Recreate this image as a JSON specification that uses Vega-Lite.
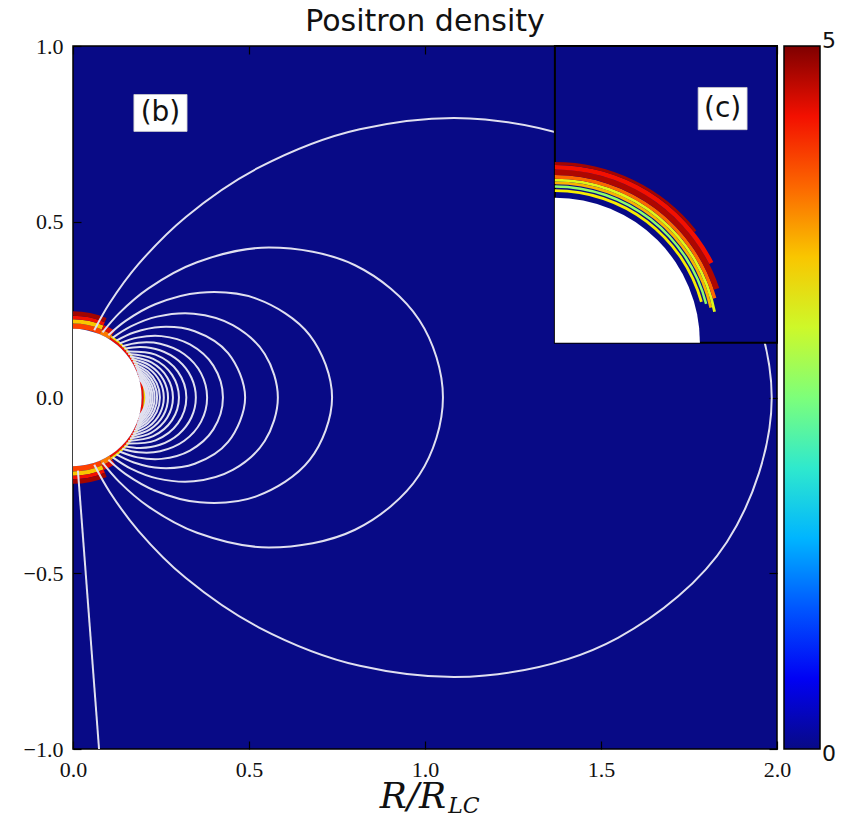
{
"$schema":"https://vega.github.io/schema/vega-lite/v6.json",
"width":704,"height":703,
"padding":{"left":23,"top":7,"right":0,"bottom":0},
"background":"white",
"title":{"text":"Positron density","font":"DejaVu Sans","fontSize":30,"fontWeight":"normal","color":"#111","offset":-2},
"config":{
 "view":{"fill":"#080a86","stroke":"#000","strokeWidth":1.5},
 "axis":{"labelFont":"Liberation Serif","labelFontSize":22,"labelColor":"#111","tickColor":"#000","tickSize":-8,"tickWidth":1.2,"domain":false,"grid":false,"labelPadding":18,"labelFlush":false,"zindex":1},
 "legend":{"labelFont":"DejaVu Sans","labelFontSize":22,"labelColor":"#111","gradientLength":703,"gradientThickness":36,"offset":6,"padding":0,"labelOffset":10,"gradientStrokeColor":"#000","gradientStrokeWidth":1.5}
},
"datasets":{
"ring":[
{"p":"m","cx":0,"cy":0,"t0":0,"t1":0.40,"r0":0.195,"r1":0.21,"d":4.2},
{"p":"m","cx":0,"cy":0,"t0":0,"t1":0.40,"r0":0.21,"r1":0.222,"d":3.5},
{"p":"m","cx":0,"cy":0,"t0":0,"t1":0.40,"r0":0.222,"r1":0.232,"d":4.5},
{"p":"m","cx":0,"cy":0,"t0":0,"t1":0.40,"r0":0.232,"r1":0.245,"d":4.85},
{"p":"m","cx":0,"cy":0,"t0":0.40,"t1":0.56,"r0":0.195,"r1":0.21,"d":3.9},
{"p":"m","cx":0,"cy":0,"t0":0.40,"t1":0.56,"r0":0.21,"r1":0.224,"d":4.6},
{"p":"m","cx":0,"cy":0,"t0":0.56,"t1":2.58,"r0":0.195,"r1":0.201,"d":4.5},
{"p":"m","cx":0,"cy":0,"t0":0.56,"t1":2.58,"r0":0.201,"r1":0.207,"d":3.4},
{"p":"m","cx":0,"cy":0,"t0":2.58,"t1":2.74,"r0":0.195,"r1":0.21,"d":3.9},
{"p":"m","cx":0,"cy":0,"t0":2.58,"t1":2.74,"r0":0.21,"r1":0.224,"d":4.6},
{"p":"m","cx":0,"cy":0,"t0":2.74,"t1":3.1416,"r0":0.195,"r1":0.21,"d":4.2},
{"p":"m","cx":0,"cy":0,"t0":2.74,"t1":3.1416,"r0":0.21,"r1":0.222,"d":3.5},
{"p":"m","cx":0,"cy":0,"t0":2.74,"t1":3.1416,"r0":0.222,"r1":0.232,"d":4.5},
{"p":"m","cx":0,"cy":0,"t0":2.74,"t1":3.1416,"r0":0.232,"r1":0.245,"d":4.85},
{"p":"i","cx":1.369,"cy":0.156,"t0":0,"t1":1.30,"r0":0.428,"r1":0.436,"d":3.3},
{"p":"i","cx":1.369,"cy":0.156,"t0":0,"t1":1.32,"r0":0.440,"r1":0.447,"d":2.6},
{"p":"i","cx":1.369,"cy":0.156,"t0":0,"t1":1.35,"r0":0.450,"r1":0.458,"d":3.6},
{"p":"i","cx":1.369,"cy":0.156,"t0":0,"t1":1.38,"r0":0.458,"r1":0.466,"d":3.1},
{"p":"i","cx":1.369,"cy":0.156,"t0":0,"t1":1.30,"r0":0.466,"r1":0.476,"d":4.0},
{"p":"i","cx":1.369,"cy":0.156,"t0":0,"t1":1.25,"r0":0.476,"r1":0.492,"d":4.8},
{"p":"i","cx":1.369,"cy":0.156,"t0":0,"t1":1.10,"r0":0.492,"r1":0.505,"d":4.5},
{"p":"i","cx":1.369,"cy":0.156,"t0":0,"t1":0.90,"r0":0.505,"r1":0.513,"d":4.85}
],
"stars":[
{"cx":0,"cy":0,"t0":0,"t1":3.1416,"r0":0,"r1":0.195},
{"cx":1.369,"cy":0.156,"t0":0,"t1":1.5708,"r0":0,"r1":0.412}
],
"inset":[{"x0":1.369,"x1":2.0,"y0":0.156,"y1":1.0}],
"boxes":[
{"label":"(b)","x0":0.173,"x1":0.324,"y0":0.757,"y1":0.862,"xc":0.2485,"yc":0.809},
{"label":"(c)","x0":1.776,"x1":1.915,"y0":0.762,"y1":0.882,"xc":1.8455,"yc":0.822}
],
"xt1":[{"x":1.06,"y":-1.169,"t":"R/R"}],
"xt2":[{"x":1.066,"y":-1.181,"t":"LC"}],
"fl":[
{"id":1,"o":0,"x":0.0604,"y":0.1913},{"id":1,"o":1,"x":0.1043,"y":0.2687},{"id":1,"o":2,"x":0.1858,"y":0.3792},{"id":1,"o":3,"x":0.3207,"y":0.5138},{"id":1,"o":4,"x":0.5272,"y":0.6537},{"id":1,"o":5,"x":0.8146,"y":0.7632},{"id":1,"o":6,"x":1.171,"y":0.7911},{"id":1,"o":7,"x":1.5482,"y":0.6836},{"id":1,"o":8,"x":1.8577,"y":0.4109},{"id":1,"o":9,"x":1.985,"y":0},{"id":1,"o":10,"x":1.8577,"y":-0.4109},{"id":1,"o":11,"x":1.5482,"y":-0.6836},{"id":1,"o":12,"x":1.171,"y":-0.7911},{"id":1,"o":13,"x":0.8146,"y":-0.7632},{"id":1,"o":14,"x":0.5272,"y":-0.6537},{"id":1,"o":15,"x":0.3207,"y":-0.5138},{"id":1,"o":16,"x":0.1858,"y":-0.3792},{"id":1,"o":17,"x":0.1043,"y":-0.2687},{"id":1,"o":18,"x":0.0604,"y":-0.1913},
{"id":2,"o":0,"x":0.0839,"y":0.1854},{"id":2,"o":1,"x":0.1314,"y":0.2401},{"id":2,"o":2,"x":0.2135,"y":0.3099},{"id":2,"o":3,"x":0.3524,"y":0.3849},{"id":2,"o":4,"x":0.5565,"y":0.4266},{"id":2,"o":5,"x":0.8012,"y":0.3763},{"id":2,"o":6,"x":0.9836,"y":0.2206},{"id":2,"o":7,"x":1.051,"y":0},{"id":2,"o":8,"x":0.9836,"y":-0.2206},{"id":2,"o":9,"x":0.8012,"y":-0.3763},{"id":2,"o":10,"x":0.5565,"y":-0.4266},{"id":2,"o":11,"x":0.3524,"y":-0.3849},{"id":2,"o":12,"x":0.2135,"y":-0.3099},{"id":2,"o":13,"x":0.1314,"y":-0.2401},{"id":2,"o":14,"x":0.0839,"y":-0.1854},
{"id":3,"o":0,"x":0.1005,"y":0.1774},{"id":3,"o":1,"x":0.1495,"y":0.2181},{"id":3,"o":2,"x":0.2335,"y":0.2654},{"id":3,"o":3,"x":0.3601,"y":0.2983},{"id":3,"o":4,"x":0.5206,"y":0.2812},{"id":3,"o":5,"x":0.6723,"y":0.1777},{"id":3,"o":6,"x":0.736,"y":0},{"id":3,"o":7,"x":0.6723,"y":-0.1777},{"id":3,"o":8,"x":0.5206,"y":-0.2812},{"id":3,"o":9,"x":0.3601,"y":-0.2983},{"id":3,"o":10,"x":0.2335,"y":-0.2654},{"id":3,"o":11,"x":0.1495,"y":-0.2181},{"id":3,"o":12,"x":0.1005,"y":-0.1774},
{"id":4,"o":0,"x":0.1131,"y":0.1703},{"id":4,"o":1,"x":0.1644,"y":0.2023},{"id":4,"o":2,"x":0.2389,"y":0.2301},{"id":4,"o":3,"x":0.3433,"y":0.2385},{"id":4,"o":4,"x":0.454,"y":0.2061},{"id":4,"o":5,"x":0.5447,"y":0.1239},{"id":4,"o":6,"x":0.582,"y":0},{"id":4,"o":7,"x":0.5447,"y":-0.1239},{"id":4,"o":8,"x":0.454,"y":-0.2061},{"id":4,"o":9,"x":0.3433,"y":-0.2385},{"id":4,"o":10,"x":0.2389,"y":-0.2301},{"id":4,"o":11,"x":0.1644,"y":-0.2023},{"id":4,"o":12,"x":0.1131,"y":-0.1703},
{"id":5,"o":0,"x":0.1234,"y":0.1619},{"id":5,"o":1,"x":0.1729,"y":0.185},{"id":5,"o":2,"x":0.2491,"y":0.2008},{"id":5,"o":3,"x":0.3459,"y":0.1886},{"id":5,"o":4,"x":0.4407,"y":0.1263},{"id":5,"o":5,"x":0.489,"y":0},{"id":5,"o":6,"x":0.4407,"y":-0.1263},{"id":5,"o":7,"x":0.3459,"y":-0.1886},{"id":5,"o":8,"x":0.2491,"y":-0.2008},{"id":5,"o":9,"x":0.1729,"y":-0.185},{"id":5,"o":10,"x":0.1234,"y":-0.1619},
{"id":6,"o":0,"x":0.1321,"y":0.1537},{"id":6,"o":1,"x":0.1831,"y":0.1703},{"id":6,"o":2,"x":0.2513,"y":0.1746},{"id":6,"o":3,"x":0.3323,"y":0.1509},{"id":6,"o":4,"x":0.3987,"y":0.0907},{"id":6,"o":5,"x":0.426,"y":0},{"id":6,"o":6,"x":0.3987,"y":-0.0907},{"id":6,"o":7,"x":0.3323,"y":-0.1509},{"id":6,"o":8,"x":0.2513,"y":-0.1746},{"id":6,"o":9,"x":0.1831,"y":-0.1703},{"id":6,"o":10,"x":0.1321,"y":-0.1537},
{"id":7,"o":0,"x":0.1397,"y":0.1458},{"id":7,"o":1,"x":0.1864,"y":0.1559},{"id":7,"o":2,"x":0.2475,"y":0.1529},{"id":7,"o":3,"x":0.3162,"y":0.1231},{"id":7,"o":4,"x":0.3639,"y":0.0686},{"id":7,"o":5,"x":0.381,"y":0},{"id":7,"o":6,"x":0.3639,"y":-0.0686},{"id":7,"o":7,"x":0.3162,"y":-0.1231},{"id":7,"o":8,"x":0.2475,"y":-0.1529},{"id":7,"o":9,"x":0.1864,"y":-0.1559},{"id":7,"o":10,"x":0.1397,"y":-0.1458},
{"id":8,"o":0,"x":0.146,"y":0.1386},{"id":8,"o":1,"x":0.1918,"y":0.1437},{"id":8,"o":2,"x":0.2469,"y":0.1346},{"id":8,"o":3,"x":0.3002,"y":0.1044},{"id":8,"o":4,"x":0.3363,"y":0.057},{"id":8,"o":5,"x":0.349,"y":0},{"id":8,"o":6,"x":0.3363,"y":-0.057},{"id":8,"o":7,"x":0.3002,"y":-0.1044},{"id":8,"o":8,"x":0.2469,"y":-0.1346},{"id":8,"o":9,"x":0.1918,"y":-0.1437},{"id":8,"o":10,"x":0.146,"y":-0.1386},
{"id":9,"o":0,"x":0.1518,"y":0.131},{"id":9,"o":1,"x":0.2344,"y":0.1218},{"id":9,"o":2,"x":0.2979,"y":0.0736},{"id":9,"o":3,"x":0.322,"y":0},{"id":9,"o":4,"x":0.2979,"y":-0.0736},{"id":9,"o":5,"x":0.2344,"y":-0.1218},{"id":9,"o":6,"x":0.1518,"y":-0.131},
{"id":10,"o":0,"x":0.157,"y":0.1238},{"id":10,"o":1,"x":0.2279,"y":0.1101},{"id":10,"o":2,"x":0.2814,"y":0.0645},{"id":10,"o":3,"x":0.301,"y":0},{"id":10,"o":4,"x":0.2814,"y":-0.0645},{"id":10,"o":5,"x":0.2279,"y":-0.1101},{"id":10,"o":6,"x":0.157,"y":-0.1238},
{"id":11,"o":0,"x":0.1618,"y":0.1168},{"id":11,"o":1,"x":0.223,"y":0.0998},{"id":11,"o":2,"x":0.2678,"y":0.0572},{"id":11,"o":3,"x":0.284,"y":0},{"id":11,"o":4,"x":0.2678,"y":-0.0572},{"id":11,"o":5,"x":0.223,"y":-0.0998},{"id":11,"o":6,"x":0.1618,"y":-0.1168},
{"id":12,"o":0,"x":0.1658,"y":0.11},{"id":12,"o":1,"x":0.2188,"y":0.0908},{"id":12,"o":2,"x":0.2564,"y":0.0514},{"id":12,"o":3,"x":0.27,"y":0},{"id":12,"o":4,"x":0.2564,"y":-0.0514},{"id":12,"o":5,"x":0.2188,"y":-0.0908},{"id":12,"o":6,"x":0.1658,"y":-0.11},
{"id":13,"o":0,"x":0.1696,"y":0.1031},{"id":13,"o":1,"x":0.2153,"y":0.0825},{"id":13,"o":2,"x":0.2466,"y":0.0461},{"id":13,"o":3,"x":0.258,"y":0},{"id":13,"o":4,"x":0.2466,"y":-0.0461},{"id":13,"o":5,"x":0.2153,"y":-0.0825},{"id":13,"o":6,"x":0.1696,"y":-0.1031},
{"id":14,"o":0,"x":0.1733,"y":0.0957},{"id":14,"o":1,"x":0.2118,"y":0.0745},{"id":14,"o":2,"x":0.2378,"y":0.0408},{"id":14,"o":3,"x":0.247,"y":0},{"id":14,"o":4,"x":0.2378,"y":-0.0408},{"id":14,"o":5,"x":0.2118,"y":-0.0745},{"id":14,"o":6,"x":0.1733,"y":-0.0957},
{"id":15,"o":0,"x":0.1762,"y":0.0895},{"id":15,"o":1,"x":0.2093,"y":0.0681},{"id":15,"o":2,"x":0.2312,"y":0.037},{"id":15,"o":3,"x":0.239,"y":0},{"id":15,"o":4,"x":0.2312,"y":-0.037},{"id":15,"o":5,"x":0.2093,"y":-0.0681},{"id":15,"o":6,"x":0.1762,"y":-0.0895},
{"id":16,"o":0,"x":0.1789,"y":0.0832},{"id":16,"o":1,"x":0.207,"y":0.0622},{"id":16,"o":2,"x":0.2256,"y":0.0331},{"id":16,"o":3,"x":0.232,"y":0},{"id":16,"o":4,"x":0.2256,"y":-0.0331},{"id":16,"o":5,"x":0.207,"y":-0.0622},{"id":16,"o":6,"x":0.1789,"y":-0.0832},
{"id":17,"o":0,"x":0.1813,"y":0.0772},{"id":17,"o":1,"x":0.2051,"y":0.0568},{"id":17,"o":2,"x":0.2207,"y":0.0298},{"id":17,"o":3,"x":0.226,"y":0},{"id":17,"o":4,"x":0.2207,"y":-0.0298},{"id":17,"o":5,"x":0.2051,"y":-0.0568},{"id":17,"o":6,"x":0.1813,"y":-0.0772},
{"id":18,"o":0,"x":0.183,"y":0.0717},{"id":18,"o":1,"x":0.2035,"y":0.0519},{"id":18,"o":2,"x":0.2165,"y":0.0272},{"id":18,"o":3,"x":0.221,"y":0},{"id":18,"o":4,"x":0.2165,"y":-0.0272},{"id":18,"o":5,"x":0.2035,"y":-0.0519},{"id":18,"o":6,"x":0.183,"y":-0.0717},
{"id":19,"o":0,"x":0.1852,"y":0.0651},{"id":19,"o":1,"x":0.2019,"y":0.0463},{"id":19,"o":2,"x":0.2123,"y":0.0243},{"id":19,"o":3,"x":0.216,"y":0},{"id":19,"o":4,"x":0.2123,"y":-0.0243},{"id":19,"o":5,"x":0.2019,"y":-0.0463},{"id":19,"o":6,"x":0.1852,"y":-0.0651},
{"id":20,"o":0,"x":0.1869,"y":0.0592},{"id":20,"o":1,"x":0.2005,"y":0.0417},{"id":20,"o":2,"x":0.2091,"y":0.0215},{"id":20,"o":3,"x":0.212,"y":0},{"id":20,"o":4,"x":0.2091,"y":-0.0215},{"id":20,"o":5,"x":0.2005,"y":-0.0417},{"id":20,"o":6,"x":0.1869,"y":-0.0592},
{"id":21,"o":0,"x":0.1887,"y":0.0522},{"id":21,"o":1,"x":0.1992,"y":0.0364},{"id":21,"o":2,"x":0.2058,"y":0.0185},{"id":21,"o":3,"x":0.208,"y":0},{"id":21,"o":4,"x":0.2058,"y":-0.0185},{"id":21,"o":5,"x":0.1992,"y":-0.0364},{"id":21,"o":6,"x":0.1887,"y":-0.0522},
{"id":30,"o":0,"x":0.014,"y":-0.208},{"id":30,"o":1,"x":0.074,"y":-1.0}
]
},
"layer":[
{"data":{"name":"ring"},"transform":[{"filter":"datum.p == 'm'"}],
 "mark":{"type":"arc","clip":true},
 "encoding":{
  "x":{"field":"cx","type":"quantitative","scale":{"domain":[0,2],"nice":false,"zero":false},"axis":{"orient":"bottom","values":[0,0.5,1,1.5,2],"format":".1f","title":null}},
  "y":{"field":"cy","type":"quantitative","scale":{"domain":[-1,1],"nice":false,"zero":false},"axis":{"orient":"left","values":[-1,-0.5,0,0.5,1],"labelExpr":"replace(format(datum.value,'.1f'),'-','−')","title":null}},
  "theta":{"field":"t0","type":"quantitative","scale":null,"stack":null},
  "theta2":{"field":"t1"},
  "radius":{"field":"r0","type":"quantitative","scale":{"type":"linear","domain":[0,1],"range":[0,352],"zero":true,"nice":false}},
  "radius2":{"field":"r1"},
  "color":{"field":"d","type":"quantitative","scale":{"domain":[0,0.55,1.7,2.5,3.25,4.45,5],"range":["#080a86","#0000ff","#00dbff","#7dff7a","#f7f500","#ff1200","#7f0000"],"interpolate":"rgb"},"legend":{"values":[0,5],"title":null,"format":"d","encode":{"labels":{"update":{"baseline":{"value":"middle"},"dy":{"signal":"datum.value > 2 ? -5 : 5"}}}}}}
 }},
{"data":{"name":"fl"},
 "mark":{"type":"line","interpolate":"catmull-rom","color":"#e0e0f0","strokeWidth":2,"clip":true},
 "encoding":{
  "x":{"field":"x","type":"quantitative","axis":{"orient":"top","labels":false,"values":[0,0.5,1,1.5,2],"title":null,"zindex":0}},
  "y":{"field":"y","type":"quantitative","axis":{"orient":"right","labels":false,"values":[-1,-0.5,0,0.5,1],"title":null,"zindex":0}},
  "detail":{"field":"id"},
  "order":{"field":"o"}
 }},
{"data":{"name":"inset"},
 "mark":{"type":"rect","fill":"#080a86","stroke":"#000","strokeWidth":2},
 "encoding":{
  "x":{"field":"x0","type":"quantitative","axis":null},"x2":{"field":"x1"},
  "y":{"field":"y0","type":"quantitative","axis":null},"y2":{"field":"y1"}
 }},
{"data":{"name":"ring"},"transform":[{"filter":"datum.p == 'i'"}],
 "mark":{"type":"arc","clip":true},
 "encoding":{
  "x":{"field":"cx","type":"quantitative","axis":null},
  "y":{"field":"cy","type":"quantitative","axis":null},
  "theta":{"field":"t0","type":"quantitative","scale":null,"stack":null},
  "theta2":{"field":"t1"},
  "radius":{"field":"r0","type":"quantitative"},
  "radius2":{"field":"r1"},
  "color":{"field":"d","type":"quantitative"}
 }},
{"data":{"name":"stars"},
 "mark":{"type":"arc","color":"white","clip":true},
 "encoding":{
  "x":{"field":"cx","type":"quantitative","axis":null},
  "y":{"field":"cy","type":"quantitative","axis":null},
  "theta":{"field":"t0","type":"quantitative","scale":null,"stack":null},
  "theta2":{"field":"t1"},
  "radius":{"field":"r0","type":"quantitative"},
  "radius2":{"field":"r1"}
 }},
{"data":{"name":"boxes"},
 "mark":{"type":"rect","fill":"white","stroke":"#cccccc","strokeWidth":0.8},
 "encoding":{
  "x":{"field":"x0","type":"quantitative","axis":null},"x2":{"field":"x1"},
  "y":{"field":"y0","type":"quantitative","axis":null},"y2":{"field":"y1"}
 }},
{"data":{"name":"boxes"},
 "mark":{"type":"text","font":"DejaVu Sans","fontSize":28,"color":"#111","baseline":"middle","align":"center"},
 "encoding":{
  "x":{"field":"xc","type":"quantitative","axis":null},
  "y":{"field":"yc","type":"quantitative","axis":null},
  "text":{"field":"label"}
 }},
{"data":{"name":"xt1"},
 "mark":{"type":"text","font":"DejaVu Serif","fontStyle":"italic","fontSize":36,"color":"#111","baseline":"alphabetic","align":"right"},
 "encoding":{
  "x":{"field":"x","type":"quantitative","axis":null},
  "y":{"field":"y","type":"quantitative","axis":null},
  "text":{"field":"t"}
 }},
{"data":{"name":"xt2"},
 "mark":{"type":"text","font":"DejaVu Serif","fontStyle":"italic","fontSize":22,"color":"#111","baseline":"alphabetic","align":"left"},
 "encoding":{
  "x":{"field":"x","type":"quantitative","axis":null},
  "y":{"field":"y","type":"quantitative","axis":null},
  "text":{"field":"t"}
 }}
],
"resolve":{"axis":{"x":"independent","y":"independent"}}
}
